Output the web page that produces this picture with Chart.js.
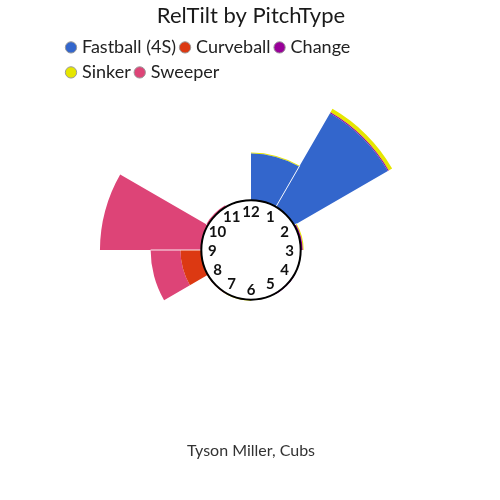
<!DOCTYPE html>
<html>
<head>
<meta charset="utf-8">
<script src="https://cdn.jsdelivr.net/npm/chart.js@4/dist/chart.umd.min.js"></script>
<style>
html,body{margin:0;padding:0;background:#fff;}
#wrap{width:500px;height:500px;}
</style>
</head>
<body>
<div id="wrap"><canvas id="c" width="500" height="500"></canvas></div>
<script>
// Release-tilt bins (clock positions), clockwise from 12 o'clock
const tiltBins = ['12:00','1:00','2:00','3:00','4:00','5:00','6:00','7:00','8:00','9:00','10:00','11:00'];
const hourLabels = ['12','1','2','3','4','5','6','7','8','9','10','11'];

// Pitch counts per tilt bin, by pitch type
const fastball4S = [47, 109, 0, 0, 0, 0, 0, 0, 0, 0, 0, 0];
const curveball  = [0, 0, 0, 0, 0, 0, 0, 1, 21, 0, 0, 0];
const changeup   = [0, 1, 2, 0, 1, 0, 0, 0, 0, 0, 0, 0];
const sinker     = [1, 4, 1, 0, 0, 0, 1, 0, 0, 0, 0, 0];
const sweeper    = [0, 0, 0, 0, 0, 0, 0, 0, 30, 102, 2, 0];

const seriesNames = ['Fastball (4S)', 'Curveball', 'Change', 'Sinker', 'Sweeper'];
const seriesColors = ['#3366cc', '#dc3912', '#990099', '#e6e600', '#dd4477'];
const seriesValues = [fastball4S, curveball, changeup, sinker, sweeper];

const chartTitle = 'RelTilt by PitchType';
const chartSubtitle = 'Tyson Miller, Cubs';

Chart.defaults.font.family = 'Lato';

// Let the legend wrap on a narrower line than the full chart width
const legendWrap = {
  id: 'legendWrap',
  afterLayout(chart) {
    const lg = chart.legend;
    if (lg) {
      lg.right = lg.left + 340;
    }
  }
};

// Stack the rings outward, each starting where the previous pitch type ended
const stackRings = {
  id: 'stackRings',
  beforeDatasetsDraw(chart) {
    const scale = chart.scales.r;
    const sums = tiltBins.map(() => 0);
    chart.data.datasets.forEach((ds, d) => {
      const meta = chart.getDatasetMeta(d);
      meta.data.forEach((arc, i) => {
        arc.innerRadius = scale.getDistanceFromCenterForValue(sums[i]);
        sums[i] += ds.data[i];
        arc.outerRadius = scale.getDistanceFromCenterForValue(sums[i]);
      });
    });
  }
};

// White seams between neighbouring wedges, and the clock face in the hole
const clockFace = {
  id: 'clockFace',
  afterDatasetsDraw(chart) {
    const scale = chart.scales.r;
    const ctx = chart.ctx;
    const cx = scale.xCenter, cy = scale.yCenter;
    const r0 = scale.getDistanceFromCenterForValue(0);
    const totals = tiltBins.map((_, i) => chart.data.datasets.reduce((s, ds) => s + ds.data[i], 0));
    ctx.save();
    ctx.strokeStyle = 'rgba(255,255,255,0.9)';
    ctx.lineWidth = 1;
    totals.forEach((t, i) => {
      const prev = totals[(i + totals.length - 1) % totals.length];
      const m = Math.min(t, prev);
      if (m <= 0) return;
      const a = i * 2 * Math.PI / tiltBins.length;
      const r1 = scale.getDistanceFromCenterForValue(m);
      ctx.beginPath();
      ctx.moveTo(cx + r0 * Math.sin(a), cy - r0 * Math.cos(a));
      ctx.lineTo(cx + r1 * Math.sin(a), cy - r1 * Math.cos(a));
      ctx.stroke();
    });
    ctx.beginPath();
    ctx.arc(cx, cy, r0, 0, Math.PI * 2);
    ctx.fillStyle = '#ffffff';
    ctx.fill();
    ctx.lineWidth = 2;
    ctx.strokeStyle = '#000000';
    ctx.stroke();
    ctx.fillStyle = '#111111';
    ctx.font = 'bold 15px Lato';
    ctx.textAlign = 'center';
    ctx.textBaseline = 'middle';
    const rt = r0 - 11;
    hourLabels.forEach((h, i) => {
      const a = i * Math.PI / 6;
      ctx.fillText(h, cx + rt * Math.sin(a), cy - rt * Math.cos(a) + 1);
    });
    ctx.restore();
  }
};

new Chart(document.getElementById('c'), {
  type: 'polarArea',
  data: {
    labels: tiltBins,
    datasets: seriesValues.map((vals, i) => ({
      label: seriesNames[i],
      data: vals,
      backgroundColor: seriesColors[i],
      borderWidth: 0
    }))
  },
  options: {
    responsive: false,
    animation: false,
    layout: { padding: { left: 62, right: 60, top: 0, bottom: 0 } },
    scales: {
      r: {
        min: -50,
        max: 109,
        ticks: { display: false },
        grid: { display: false },
        angleLines: { display: false },
        pointLabels: { display: false }
      }
    },
    plugins: {
      title: {
        display: true,
        text: chartTitle,
        color: '#1a1a1a',
        font: { family: 'Lato', size: 22, weight: 'normal' },
        padding: { top: 3, bottom: 2 }
      },
      subtitle: {
        display: true,
        text: chartSubtitle,
        position: 'bottom',
        color: '#333333',
        font: { family: 'Lato', size: 16, weight: 'normal' },
        padding: { top: 32, bottom: 40 }
      },
      legend: {
        position: 'top',
        align: 'start',
        labels: {
          usePointStyle: true,
          boxWidth: 4,
          boxHeight: 8,
          padding: 7,
          color: '#222222',
          font: { family: 'Lato', size: 18 },
          generateLabels: (chart) => chart.data.datasets.map((ds, i) => ({
            text: ds.label,
            fillStyle: ds.backgroundColor,
            strokeStyle: '#999999',
            lineWidth: 1,
            pointStyle: 'circle',
            hidden: false,
            datasetIndex: i,
            fontColor: '#222222'
          }))
        }
      },
      tooltip: { enabled: false }
    }
  },
  plugins: [legendWrap, stackRings, clockFace]
});
</script>
</body>
</html>
